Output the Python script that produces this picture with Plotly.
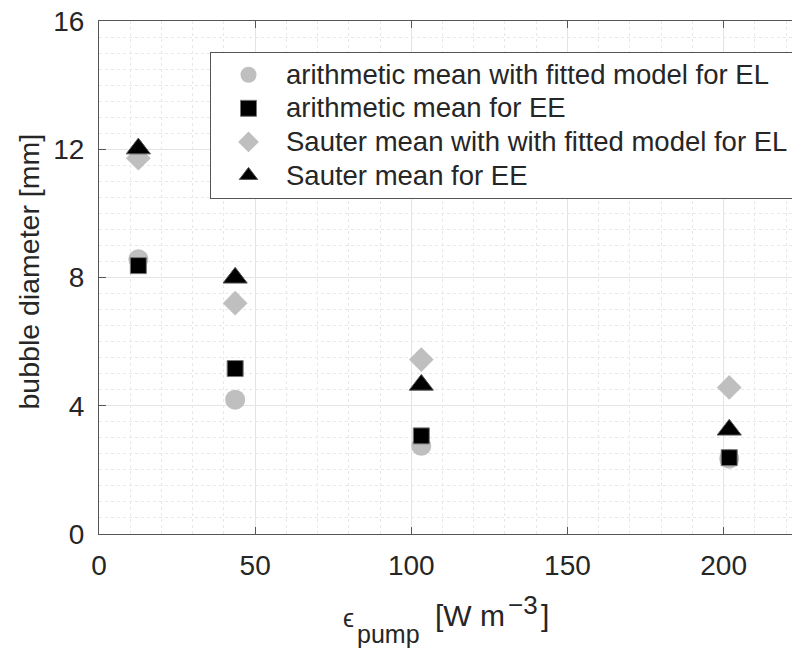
import plotly.graph_objects as go

x_vals = [12.6, 43.6, 103.2, 201.8]
arith_EL = [8.57, 4.19, 2.75, 2.35]
arith_EE = [8.37, 5.16, 3.06, 2.38]
sauter_EL = [11.72, 7.2, 5.44, 4.57]
sauter_EE = [12.02, 7.99, 4.65, 3.25]

names = ["arithmetic mean with fitted model for EL",
         "arithmetic mean for EE",
         "Sauter mean with with fitted model for EL",
         "Sauter mean for EE"]

x_ticks = [0, 50, 100, 150, 200]
y_ticks = [0, 4, 8, 12, 16]

FONT = "Liberation Sans, Arial, Helvetica, sans-serif"
GRAY = "#bfbfbf"
TXT = "#262626"

# plot area in pixels (fixed layout)
L, T, B = 99, 21, 116
H = 650
Y0 = H - B  # pixel row of y=0


def leg(name):
    return "<span style='font-size:27.5px'>" + name + "</span>"


fig = go.Figure()
fig.add_trace(go.Scatter(x=x_vals, y=arith_EL, mode="markers", name=leg(names[0]), legendgroup="a", legendrank=1,
                         marker=dict(symbol="circle", size=20, color=GRAY, line=dict(width=0))))
fig.add_trace(go.Scatter(x=x_vals, y=sauter_EL, mode="markers", name=leg(names[2]), legendgroup="c", legendrank=3,
                         marker=dict(symbol="diamond", size=19, color=GRAY, line=dict(width=0))))
fig.add_trace(go.Scatter(x=x_vals, y=arith_EE, mode="markers", name=leg(names[1]), legendgroup="b", legendrank=2,
                         marker=dict(symbol="square", size=16, color="black", line=dict(width=1, color="#777"))))
fig.add_trace(go.Scatter(x=x_vals, y=sauter_EE, mode="markers", name=leg(names[3]), legendgroup="d", legendrank=4,
                         marker=dict(symbol="triangle-up", size=21, color="black", line=dict(width=1, color="#555"))))

axis_common = dict(
    showline=True, linecolor="#555555", linewidth=1.2,
    ticks="inside", ticklen=7, tickcolor="#555555",
    showgrid=True, gridcolor="#e4e4e4", gridwidth=1,
    zeroline=False, automargin=False,
    tickfont=dict(family=FONT, size=28, color=TXT),
)

fig.update_xaxes(range=[0, 221.9], tickvals=x_ticks, mirror="ticks",
                 minor=dict(dtick=10, showgrid=True, gridcolor="#e8e8e8", griddash="dot", ticks=""),
                 ticklabelstandoff=6, **axis_common)
fig.update_yaxes(range=[0, 16], tickvals=y_ticks, mirror=False,
                 minor=dict(dtick=0.5, showgrid=True, gridcolor="#e8e8e8", griddash="dot", ticks=""),
                 ticklabelstandoff=8, **axis_common)


def piece(text, px, py, size, anchor="left"):
    return dict(text=text, xref="paper", yref="paper", x=0, y=0,
                xshift=px - L, yshift=Y0 - py, xanchor=anchor, yanchor="middle",
                showarrow=False, font=dict(family=FONT, size=size, color=TXT))


annotations = [
    dict(text="bubble diameter [mm]", xref="paper", yref="paper",
         x=0, y=0.5, xanchor="center", yanchor="middle", textangle=-90, xshift=-71, yshift=6,
         showarrow=False, font=dict(family=FONT, size=28.5, color=TXT)),
    piece("\u03f5", 341, 618, 25),
    piece("pump", 355, 634, 25),
    piece("[W m", 433, 615, 30),
    piece("\u22123", 506, 605, 26),
    piece("]", 539, 615, 30),
]

fig.update_layout(
    width=792, height=650,
    margin=dict(l=L, r=0, t=T, b=B, autoexpand=False),
    paper_bgcolor="white", plot_bgcolor="white",
    showlegend=True,
    legend=dict(x=(210 - L) / (792 - L), y=(Y0 - 52) / (Y0 - T), xanchor="left", yanchor="top",
                bgcolor="white", bordercolor="#555555", borderwidth=1,
                font=dict(family=FONT, size=23.5, color=TXT),
                traceorder="normal", tracegroupgap=0, itemsizing="trace", itemwidth=65),
    annotations=annotations,
)

fig.write_html("out.html", config={"displayModeBar": False},
               post_script="document.body.style.margin='0';document.body.style.overflow='hidden';")
